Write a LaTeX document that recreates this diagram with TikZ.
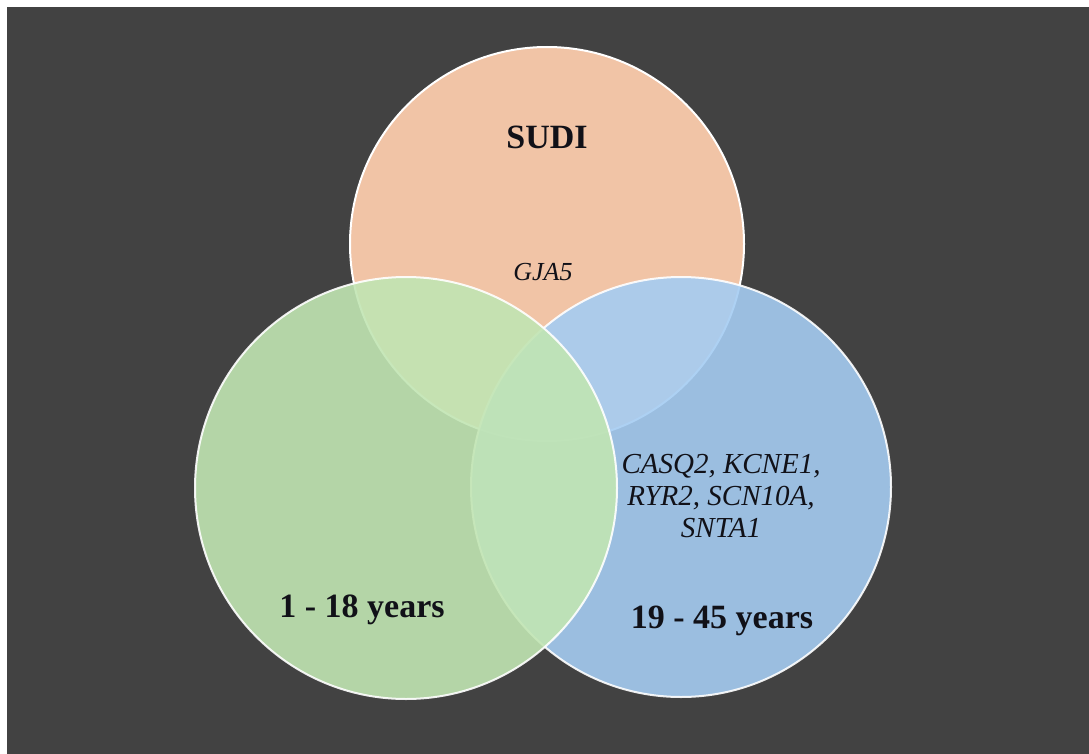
\documentclass[tikz,border=0pt]{standalone}
\usepackage{fontspec}
\setmainfont{Liberation Serif}
\definecolor{nen}{HTML}{424242}
\definecolor{cam}{HTML}{F1C4A6}
\definecolor{xanhduong}{HTML}{A5CCF2}
\definecolor{xanhla}{HTML}{C1E5B3}
\definecolor{muc}{HTML}{111118}
\begin{document}
\begin{tikzpicture}[x=1pt, y=-1pt,
    vong/.style={circle, draw=white, line width=2pt, inner sep=0pt},
    chu/.style={anchor=base, text=muc, inner sep=0pt}]
    % Khung nền xám
    \useasboundingbox (0, 0) rectangle (1089, 754);
    \fill[nen] (7, 7) rectangle (1089, 754);

    % Tâm của ba hình tròn
    \coordinate (S) at (547, 244);
    \coordinate (T) at (406, 488);
    \coordinate (N) at (681, 487);

    % Ba hình tròn (cam dưới cùng, xanh lá trên cùng)
    \node[vong, fill=cam, minimum size=394pt] (sudi) at (S) {};
    \node[vong, fill=xanhduong, opacity=0.9, minimum size=420pt] (lon) at (N) {};
    \node[vong, fill=xanhla, opacity=0.9, minimum size=422pt] (tre) at (T) {};

    % Tên các nhóm
    \node[chu, font=\fontsize{34}{39}\selectfont\bfseries] (tensudi) at (547, 149) {SUDI};
    \node[chu, font=\fontsize{34}{39}\selectfont\bfseries] (tentre) at (362, 617) {1 - 18 years};
    \node[chu, font=\fontsize{34}{39}\selectfont\bfseries] (tenlon) at (722, 628) {19 - 45 years};

    % Các gen
    \node[chu, font=\fontsize{26}{30}\selectfont\itshape] (gensudi) at (543, 280) {GJA5};
    \node[text=muc, inner sep=0pt, align=center, font=\fontsize{29}{32}\selectfont\itshape]
        (genlon) at (721, 496) {CASQ2, KCNE1,\\ RYR2, SCN10A,\\ SNTA1};
\end{tikzpicture}
\end{document}
